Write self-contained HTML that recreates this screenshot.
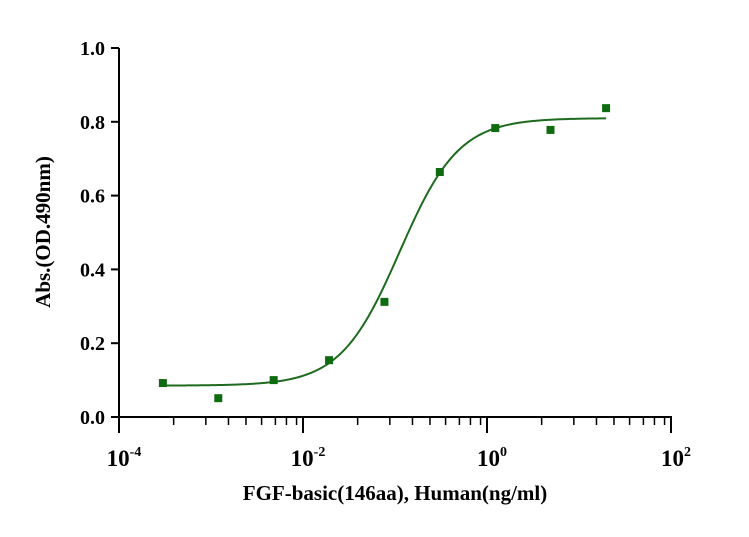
<!DOCTYPE html>
<html><head><meta charset="utf-8"><style>
body{margin:0;background:#fff;}
svg text{font-family:"Liberation Serif",serif;font-weight:bold;fill:#000;}
</style></head><body>
<svg width="749" height="532">
<g id="axes"></g><g id="marks"></g>
<text x="395" y="500" text-anchor="middle" font-size="21">FGF-basic(146aa), Human(ng/ml)</text>
<text transform="translate(50,232) rotate(-90)" text-anchor="middle" font-size="21">Abs.(OD.490nm)</text>
</svg>
<script>
const concentrations=[0.0003,0.0012,0.0048,0.0192,0.0768,0.307,1.23,4.9,19.7];
const absorbance=[0.092,0.051,0.100,0.154,0.312,0.664,0.783,0.778,0.837];
const yTicks=[0,0.2,0.4,0.6,0.8,1.0];
const yTickLabels=["0.0","0.2","0.4","0.6","0.8","1.0"];
const xTickExps=[-4,-2,0,2];
const fitBottom=0.085, fitTop=0.81, fitLogEC50=-0.95, fitHill=1.35;
const NS="http://www.w3.org/2000/svg";
const X0=119,PXD=92,Y0=417,PY=369;
function xs(v){return X0+(Math.log10(v)+4)*PXD;}
function ys(v){return Y0-v*PY;}
function mk(t,a,p){const e=document.createElementNS(NS,t);for(const k in a)e.setAttribute(k,a[k]);p.appendChild(e);return e;}
const ax=document.getElementById('axes'),mg=document.getElementById('marks');
let l=mk('line',{x1:X0,y1:ys(1),x2:X0,y2:Y0,stroke:'#000','stroke-width':2},ax);


l=mk('line',{x1:X0-8,y1:Y0,x2:xs(100)+1,y2:Y0,stroke:'#000','stroke-width':2},ax);


yTicks.forEach((v,i)=>{
 mk('line',{x1:X0-8,y1:ys(v),x2:X0,y2:ys(v),stroke:'#000','stroke-width':2},ax);
 const t=mk('text',{x:X0-14,y:ys(v)+7,'text-anchor':'end','font-size':20},ax);t.textContent=yTickLabels[i];
 
 
});
xTickExps.forEach(e=>{
 const x=X0+(e+4)*PXD;
 mk('line',{x1:x,y1:Y0,x2:x,y2:Y0+16,stroke:'#000','stroke-width':2},ax);
 const t=mk('text',{x:x+5,y:Y0+49,'text-anchor':'middle','font-size':23},ax);
 
 
 t.textContent='10';
 const s=mk('tspan',{dy:-10,'font-size':14},t);s.textContent=(e<0?'-':'')+Math.abs(e);
});
const minorFr=[0.297,0.472,0.595,0.69,0.775,0.85,0.91,0.965];
for(let s=0;s<3;s++)minorFr.forEach(f=>{const x=X0+(s*2+f*2)*PXD;
 mk('line',{x1:x,y1:Y0,x2:x,y2:Y0+8,stroke:'#000','stroke-width':1.5},ax);});
function fit(lx){return fitBottom+(fitTop-fitBottom)/(1+Math.pow(10,(fitLogEC50-lx)*fitHill));}
let d='';const a=Math.log10(concentrations[0]),b=Math.log10(concentrations[concentrations.length-1]);
for(let i=0;i<=200;i++){const lx=a+(b-a)*i/200;d+=(i?'L':'M')+xs(Math.pow(10,lx)).toFixed(2)+','+ys(fit(lx)).toFixed(2);}
const p=mk('path',{d:d,fill:'none',stroke:'#1e6b1e','stroke-width':2},mg);


concentrations.forEach((c,i)=>{
 const r=mk('rect',{x:xs(c)-4,y:ys(absorbance[i])-4,width:8,height:8,fill:'#0f6b0f'},mg);
 
 
});
</script>
</body></html>
